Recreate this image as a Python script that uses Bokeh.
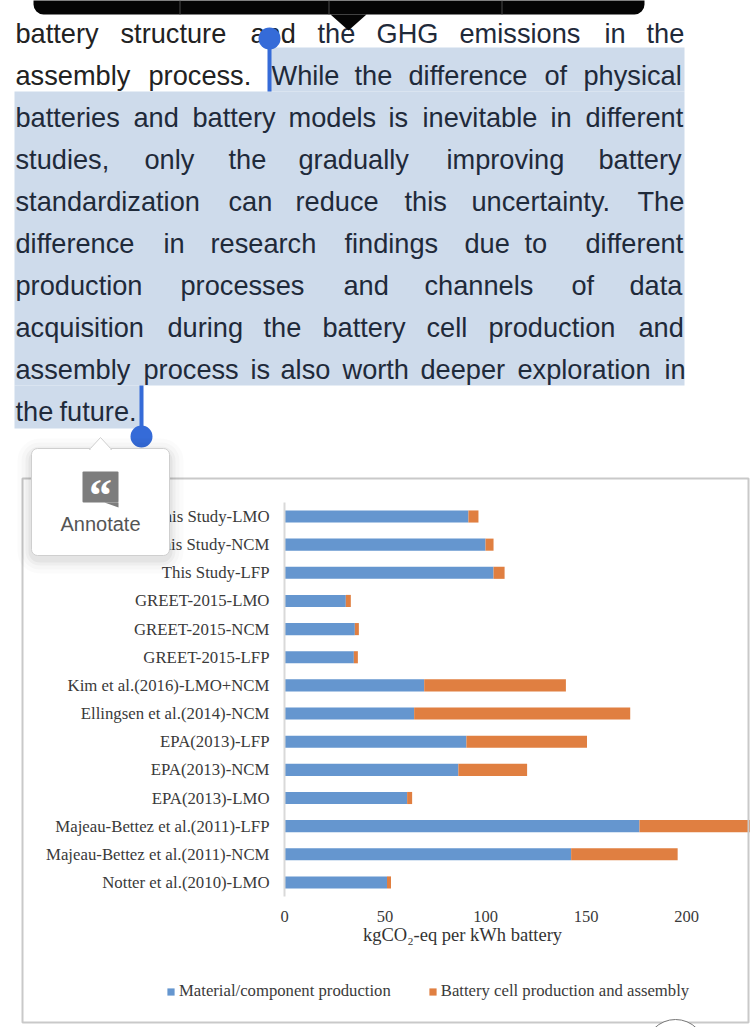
from bokeh.plotting import figure
from bokeh.models import (ColumnDataSource, Range1d, FixedTicker, Legend, LegendItem,
                          Label, BoxAnnotation, PolyAnnotation)
from bokeh.embed import file_html
from bokeh.resources import INLINE

# ---- chart data ----
studies = ["This Study-LMO", "This Study-NCM", "This Study-LFP",
           "GREET-2015-LMO", "GREET-2015-NCM", "GREET-2015-LFP",
           "Kim et al.(2016)-LMO+NCM", "Ellingsen et al.(2014)-NCM",
           "EPA(2013)-LFP", "EPA(2013)-NCM", "EPA(2013)-LMO",
           "Majeau-Bettez et al.(2011)-LFP", "Majeau-Bettez et al.(2011)-NCM",
           "Notter et al.(2010)-LMO"]
material = [91.5, 100, 104, 30.5, 35, 34.5, 69.5, 64.5, 90.5, 86.5, 61, 176.6, 142.6, 51]
assembly = [5, 4, 5.5, 2.5, 2, 2, 70.5, 107.5, 60, 34.2, 2.5, 58, 53, 2]
x_ticks = [0, 50, 100, 150, 200]
series_names = ["Material/component production", "Battery cell production and assembly"]
x_title = "kgCO\u2082-eq per kWh battery"

# ---- surrounding page text: (text row, [(left, word), ...]) ----
page_lines = [
    (33, [(15, "battery"), (120, "structure"), (250, "and"), (317, "the"), (376, "GHG"), (459, "emissions"), (604, "in"), (646, "the")]),
    (75, [(15, "assembly"), (148, "process."), (271, "While"), (354, "the"), (408, "difference"), (544, "of"), (583, "physical")]),
    (117, [(15, "batteries"), (133, "and"), (192, "battery"), (288, "models"), (388, "is"), (422, "inevitable"), (550, "in"), (585, "different")]),
    (159, [(15, "studies,"), (144, "only"), (228, "the"), (298, "gradually"), (446, "improving"), (598, "battery")]),
    (201, [(15, "standardization"), (228, "can"), (295, "reduce"), (404, "this"), (471, "uncertainty."), (637, "The")]),
    (243, [(15, "difference"), (163, "in"), (210, "research"), (344, "findings"), (464, "due"), (524, "to"), (585, "different")]),
    (285, [(15, "production"), (180, "processes"), (343, "and"), (424, "channels"), (571, "of"), (629, "data")]),
    (327, [(15, "acquisition"), (167, "during"), (263, "the"), (322, "battery"), (426, "cell"), (488, "production"), (638, "and")]),
    (369, [(15, "assembly"), (143, "process"), (250, "is"), (280, "also"), (342, "worth"), (420, "deeper"), (517, "exploration"), (664, "in")]),
    (411, [(15, "the"), (59, "future.")]),
]

W, H = 750, 1027
X0, PX_PER_UNIT = 284, 2.01     # page position of value 0, pixels per value unit
ROW0, PX_PER_ROW = 516, 28.15   # page position of the first bar row, pixels per row

rows = list(range(len(studies)))
source = ColumnDataSource(dict(row=rows, material=material, assembly=assembly))

p = figure(width=W, height=H, output_backend="svg", toolbar_location=None,
           x_range=Range1d(-X0 / PX_PER_UNIT, (W - X0) / PX_PER_UNIT),
           y_range=Range1d((H - ROW0) / PX_PER_ROW, -ROW0 / PX_PER_ROW),
           x_axis_location="below", y_axis_location="left",
           min_border=0, outline_line_color=None,
           background_fill_color="white", border_fill_color="white")

bars = p.hbar_stack(["material", "assembly"], y="row", height=0.43, source=source,
                    color=["#6596cf", "#e07f41"], line_color=None)

p.grid.visible = False
xa, ya = p.xaxis[0], p.yaxis[0]
xa.fixed_location = len(studies) - 0.5
xa.ticker = FixedTicker(ticks=x_ticks)
xa.axis_line_color = None
xa.major_tick_line_color = None
xa.minor_tick_line_color = None
xa.major_label_standoff = 8
xa.major_label_text_font = "Liberation Serif"
xa.major_label_text_font_size = "16.5px"
xa.major_label_text_color = "#3a3a3a"

ya.fixed_location = 0
ya.bounds = (-0.5, len(studies) - 0.5)
ya.ticker = FixedTicker(ticks=rows)
ya.major_label_overrides = {r: s for r, s in zip(rows, studies)}
ya.axis_line_color = "#d9d9d9"
ya.axis_line_width = 2
ya.major_tick_line_color = None
ya.minor_tick_line_color = None
ya.major_label_standoff = 9
ya.major_label_text_font = "Liberation Serif"
ya.major_label_text_font_size = "16.8px"
ya.major_label_text_color = "#3a3a3a"


def sy(v):
    return H - v


def box(l, t, r, b, fill, alpha=1.0, line=None, lw=1, radius=0):
    p.add_layout(BoxAnnotation(left=l, right=r, top=sy(t), bottom=sy(b),
                               left_units="screen", right_units="screen",
                               top_units="screen", bottom_units="screen",
                               fill_color=fill, fill_alpha=alpha, line_color=line, line_width=lw,
                               line_alpha=1.0 if line else 0, border_radius=radius))


def poly(xs, ys, fill, line=None):
    p.add_layout(PolyAnnotation(xs=list(xs), ys=[sy(v) for v in ys],
                                xs_units="screen", ys_units="screen",
                                fill_color=fill, fill_alpha=1.0, line_color=line,
                                line_alpha=1.0 if line else 0))


def text(x, y, s, size, color, font="Liberation Sans", align="left", baseline="alphabetic", style="normal"):
    p.add_layout(Label(x=x, y=sy(y), x_units="screen", y_units="screen", text=s,
                       text_font=font, text_font_size=f"{size}px", text_color=color,
                       text_align=align, text_baseline=baseline, text_font_style=style))


# chart frame
box(22, 478, 748, 1022, "white", 0.0, "#c9c9c9", 2)

# axis title and legend
text(462, 934, x_title, 18.5, "#333333", font="Liberation Serif", align="center", baseline="middle")
legend = Legend(items=[LegendItem(label=series_names[0], renderers=[bars[0]]),
                       LegendItem(label=series_names[1], renderers=[bars[1]])],
                orientation="horizontal", location=(166, sy(1001)),
                border_line_color=None, background_fill_alpha=0, padding=0, margin=0,
                spacing=37, glyph_width=9, glyph_height=9, label_standoff=4,
                label_text_font="Liberation Serif", label_text_font_size="16.7px",
                label_text_color="#3a3a3a", label_height=18)
p.add_layout(legend)

# selection highlight
box(268, 47, 684, 91, "#cedbeb")
box(14, 91, 684, 385, "#cedbeb")
box(14, 385, 140, 428, "#cedbeb")

# page text
for row, words in page_lines:
    for left, word in words:
        color = "#1f2a3a" if (row > 75 or left >= 271) else "#222222"
        text(left, row, word, 27.2, color)

# selection handles
handle = "#356bd8"
box(267, 48, 271, 91, handle)
box(258, 27, 280, 49, handle, radius=11)
box(139, 385, 143, 427, handle)
box(130, 425, 152, 447, handle, radius=11)

# black toolbar of the reader
box(33, -12, 644, 14, "#050505", radius=10)
poly([330, 366, 348], [14, 14, 30], "#050505")
for dx in (179, 328, 501):
    box(dx, 0, dx + 1, 14, "#4a4a4a")

# annotate popup
for grow, a in ((14, 0.015), (10, 0.02), (6, 0.03), (3, 0.04)):
    box(31 - grow, 448 - grow + 4, 169 + grow, 555 + grow + 4, "#000000", a, radius=8 + grow)
box(31, 448, 169, 555, "white", 1.0, "#cfcfcf", 1, radius=6)
poly([89, 100, 111], [449, 437, 449], "white", "#cfcfcf")
box(90, 448, 110, 451, "white")
box(82, 471, 118, 502, "#7d7d7d", radius=1)
poly([104, 118, 118], [502, 502, 507], "#7d7d7d")
text(100, 495, "\u201c", 46, "white", font="Liberation Serif", align="center", style="bold")
text(100, 523, "Annotate", 20, "#555555", align="center")

# corner button of the reader
box(645, 1019, 705, 1079, "white", 1.0, "#777777", 1, radius=30)

open("out.html", "w").write(file_html(p, INLINE))
